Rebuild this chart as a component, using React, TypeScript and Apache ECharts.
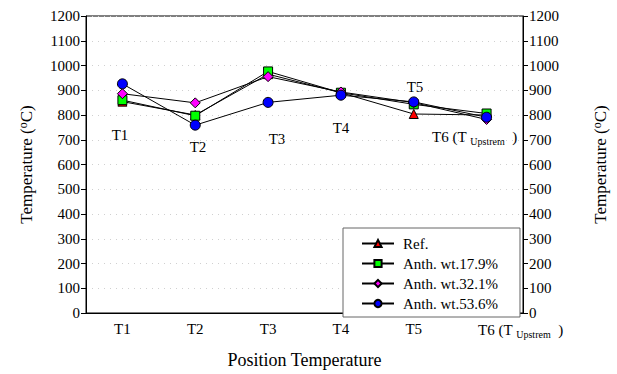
import React, { useEffect, useRef } from "react";
import * as echarts from "echarts";

const categories = ["T1", "T2", "T3", "T4", "T5", "T6"];
const seriesNames = ["Ref.", "Anth. wt.17.9%", "Anth. wt.32.1%", "Anth. wt.53.6%"];
const refValues = [854, 800, 965, 890, 804, 800];
const anth179 = [860, 797, 976, 890, 843, 806];
const anth321 = [886, 849, 955, 893, 850, 782];
const anth536 = [926, 759, 851, 880, 853, 791];
const yTicks = { min: 0, max: 1200, interval: 100 };

const FONT = "Liberation Serif";

export default function App() {
  const ref = useRef<HTMLDivElement>(null);
  useEffect(() => {
    if (!ref.current) return;
    const chart = echarts.init(ref.current, undefined, { renderer: "svg" });
    const symbols = ["triangle", "rect", "diamond", "circle"];
    const colors = ["#ff0000", "#00ff00", "#ff00ff", "#0000ff"];
    const sizes = [9, 9, 10, 10];
    const data = [refValues, anth179, anth321, anth536];
    const rich = {
      sup: { fontSize: 12, fontFamily: FONT, color: "#000", verticalAlign: "top", padding: [0, 0, 7, 0] },
      n: { fontSize: 17, fontFamily: FONT, color: "#000" },
    };
    const yAxisBase = {
      type: "value",
      min: yTicks.min,
      max: yTicks.max,
      interval: yTicks.interval,
      nameLocation: "middle",
      nameRotate: 90,
      nameTextStyle: { fontFamily: FONT, fontSize: 17, color: "#000", rich },
      axisLine: { show: true, lineStyle: { color: "#000", width: 1 } },
      axisTick: { show: true, inside: false, length: 5, lineStyle: { color: "#000" } },
      axisLabel: { fontFamily: FONT, fontSize: 15, color: "#000", margin: 6, formatter: (v: number) => String(v) },
    };
    chart.setOption({
      animation: false,
      backgroundColor: "#fff",
      grid: { left: 86, right: 91, top: 16, bottom: 56, show: true, borderColor: "#000", borderWidth: 1 },
      xAxis: {
        type: "category",
        data: categories,
        boundaryGap: true,
        name: "Position Temperature",
        nameLocation: "middle",
        nameGap: 38,
        nameTextStyle: { fontFamily: FONT, fontSize: 18, color: "#000" },
        axisLine: { lineStyle: { color: "#000", width: 1 } },
        axisTick: { alignWithLabel: true, length: 4, interval: 0, lineStyle: { color: "#000" } },
        axisLabel: {
          interval: 0,
          fontFamily: FONT,
          fontSize: 15,
          color: "#000",
          margin: 8,
          formatter: (v: string) => (v === "T6" ? "{pad| }{n|T6 (T }{sub|Upstrem}{n|  )}" : "{n|" + v + "}"),
          rich: {
            pad: { width: 68, fontSize: 15 },
            n: { fontSize: 15, fontFamily: FONT, color: "#000" },
            sub: { fontSize: 10, fontFamily: FONT, color: "#000", verticalAlign: "bottom", padding: [8, 0, 0, 0] },
          },
        },
        splitLine: { show: false },
      },
      yAxis: [
        {
          ...yAxisBase,
          position: "left",
          name: "{n|Temperature (}{sup|o}{n|C)}",
          nameGap: 50,
          splitLine: { show: true, lineStyle: { color: "#d0d0d0", type: [1, 5] } },
        },
        {
          ...yAxisBase,
          position: "right",
          name: "{n|Temperature (}{sup|o}{n|C)}",
          nameGap: 68,
          splitLine: { show: false },
        },
      ],
      legend: {
        orient: "vertical",
        left: 343,
        top: 228,
        width: 170,
        padding: [8, 22, 6, 18],
        itemGap: 5,
        itemWidth: 32,
        itemHeight: 9,
        borderColor: "#666",
        borderWidth: 1,
        backgroundColor: "#fff",
        textStyle: { fontFamily: FONT, fontSize: 15, color: "#000", padding: [0, 0, 0, 4] },
        data: seriesNames,
      },
      series: data.map((d, i) => ({
        name: seriesNames[i],
        type: "line",
        data: d,
        symbol: symbols[i],
        symbolSize: sizes[i],
        lineStyle: { color: "#000", width: 1 },
        itemStyle: { color: colors[i], borderColor: "#000", borderWidth: 1 },
        z: 2 + i,
      })),
      graphic: [
        { type: "text", x: 120, y: 135, style: { text: "T1", fontFamily: FONT, fontSize: 15, fill: "#000", align: "center", verticalAlign: "middle" } },
        { type: "text", x: 198, y: 147, style: { text: "T2", fontFamily: FONT, fontSize: 15, fill: "#000", align: "center", verticalAlign: "middle" } },
        { type: "text", x: 277, y: 139, style: { text: "T3", fontFamily: FONT, fontSize: 15, fill: "#000", align: "center", verticalAlign: "middle" } },
        { type: "text", x: 341, y: 128, style: { text: "T4", fontFamily: FONT, fontSize: 15, fill: "#000", align: "center", verticalAlign: "middle" } },
        { type: "text", x: 415, y: 87, style: { text: "T5", fontFamily: FONT, fontSize: 15, fill: "#000", align: "center", verticalAlign: "middle" } },
        {
          type: "text",
          x: 432,
          y: 137,
          style: {
            text: "{n|T6 (T }{sub|Upstrem}{n|  )}",
            align: "left",
            verticalAlign: "middle",
            rich: {
              n: { fontSize: 15, fontFamily: FONT, fill: "#000" },
              sub: { fontSize: 10, fontFamily: FONT, fill: "#000", verticalAlign: "bottom", padding: [8, 0, 0, 0] },
            },
          },
        },
      ],
    });
    return () => chart.dispose();
  }, []);
  return <div ref={ref} style={{ width: 617, height: 374, position: "absolute", left: 0, top: 0 }} />;
}
